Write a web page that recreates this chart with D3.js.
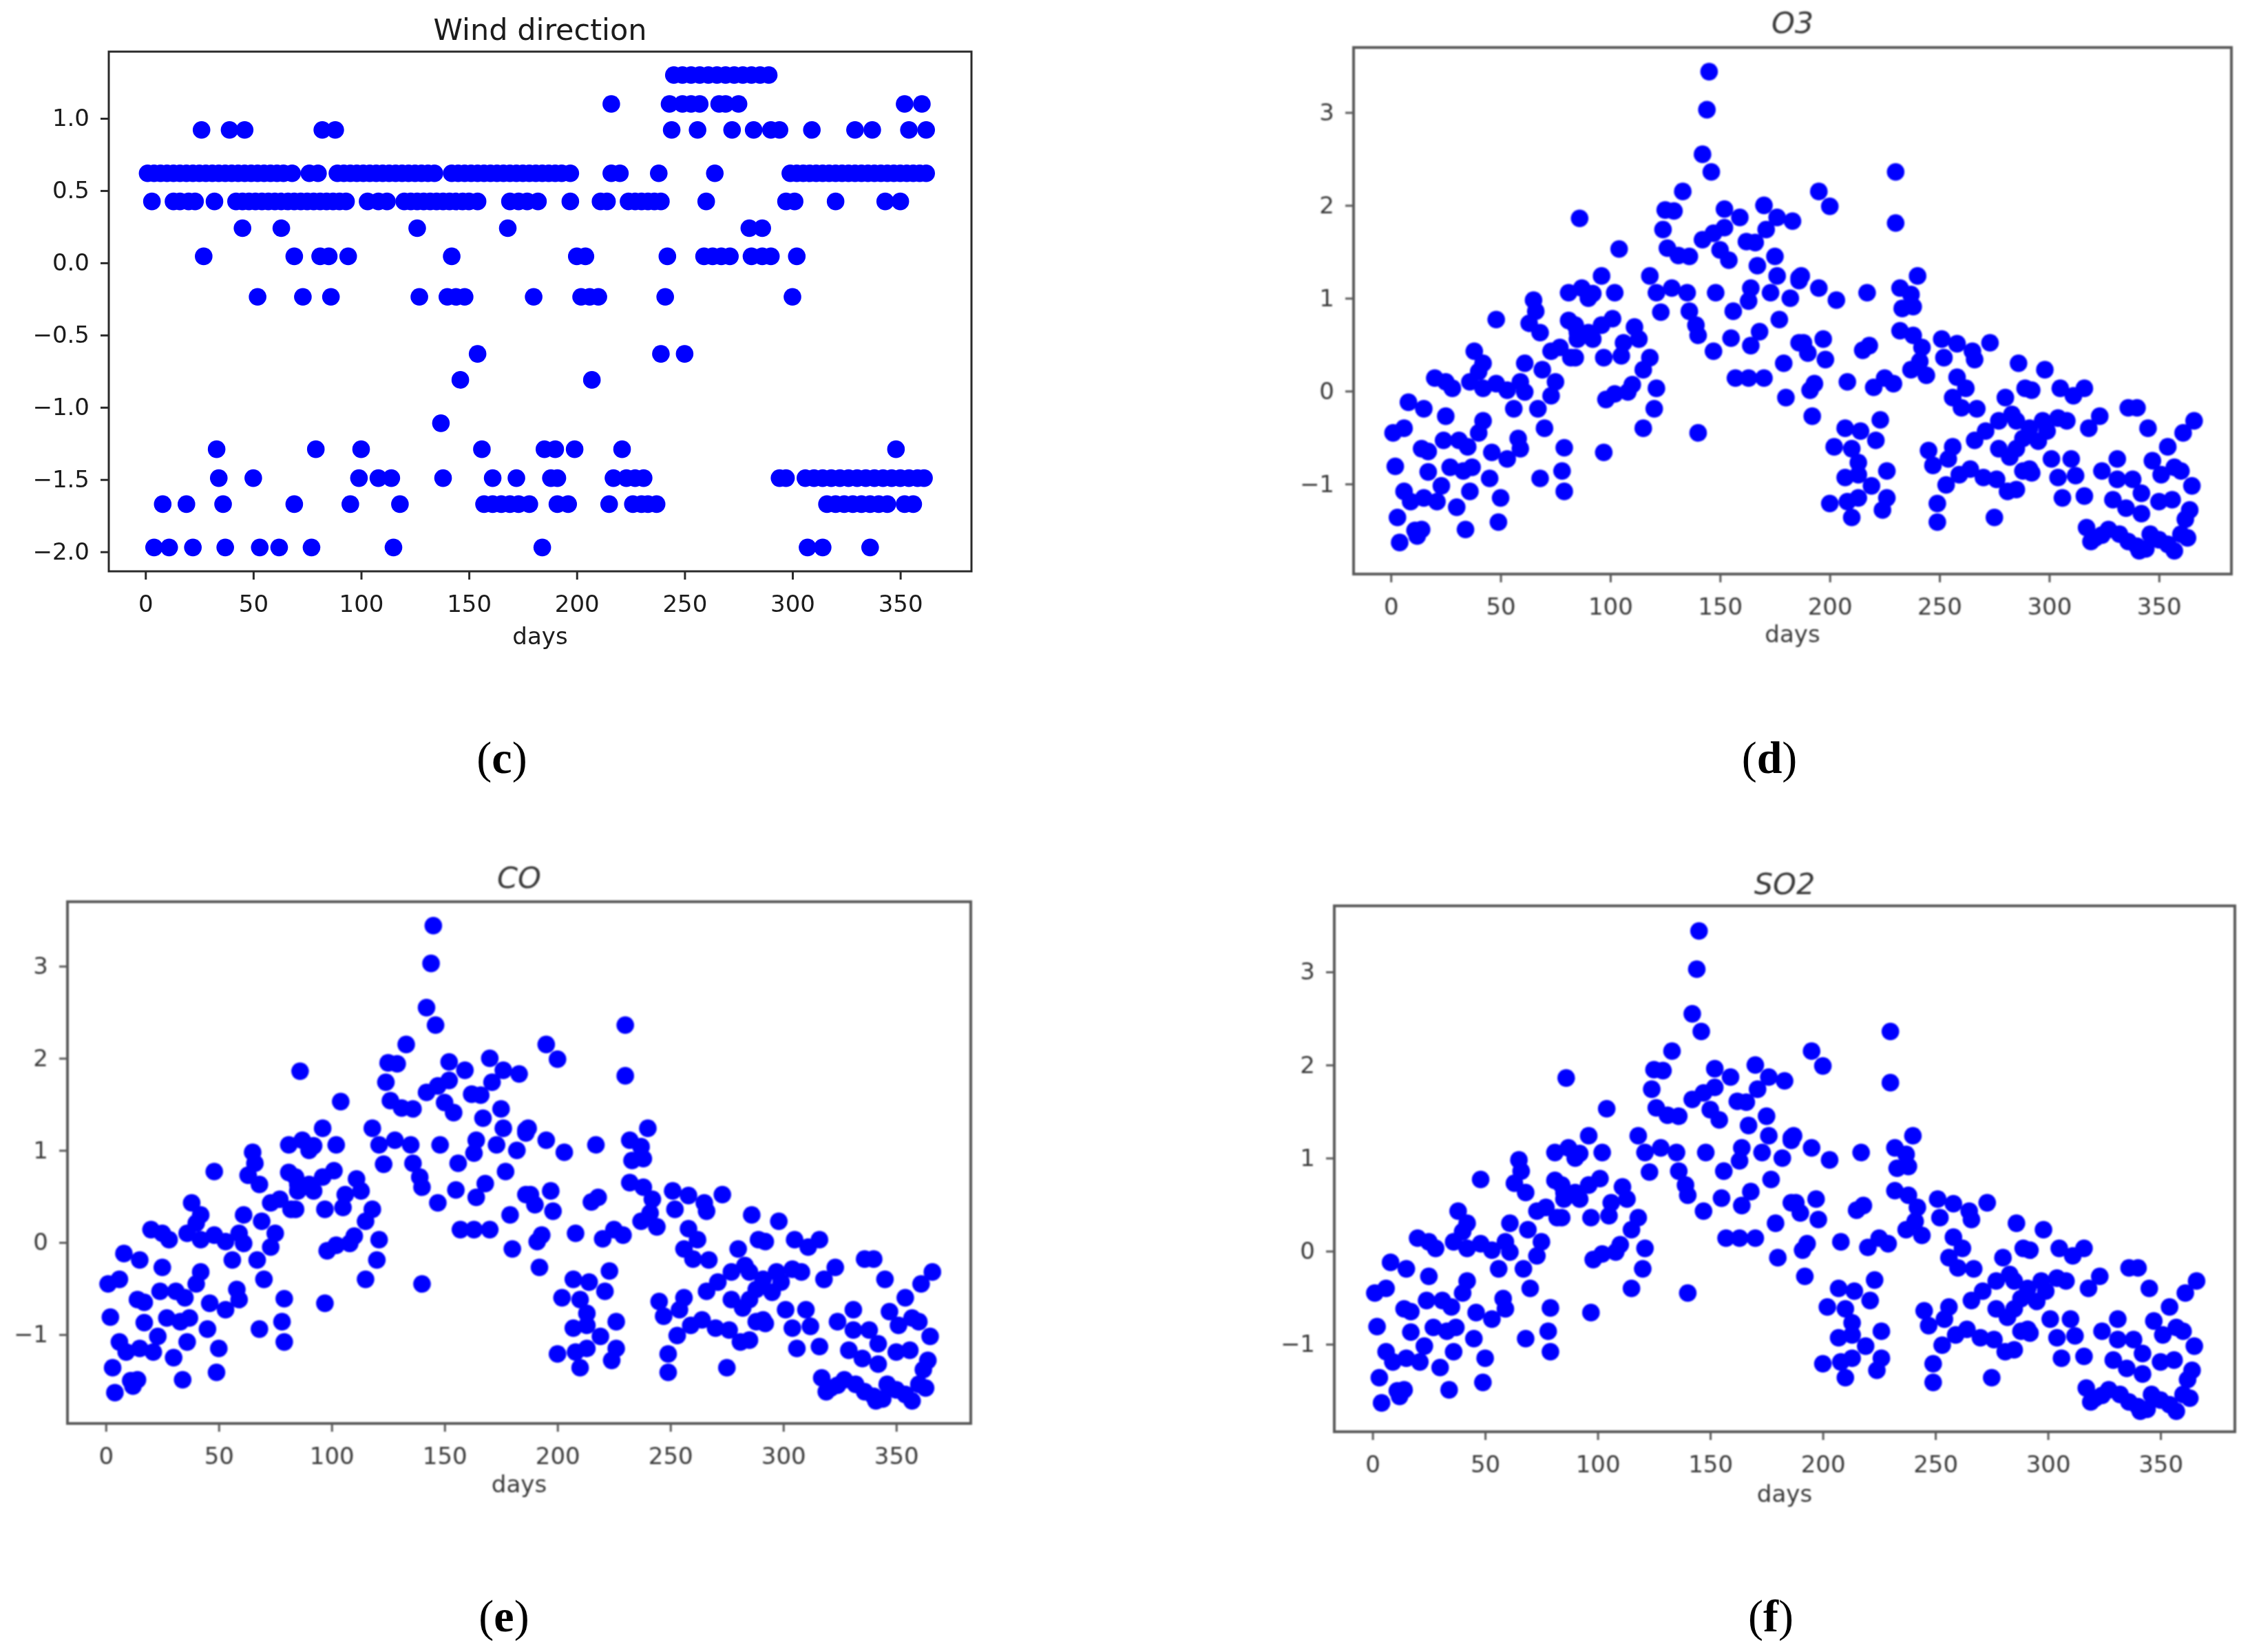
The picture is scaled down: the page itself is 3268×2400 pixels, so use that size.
<!DOCTYPE html>
<html>
<head>
<meta charset="utf-8">
<script src="https://cdn.jsdelivr.net/npm/d3@7"></script>
<style>
  body { margin: 0; background: #fff; }
  svg { display: block; }
</style>
</head>
<body>
<div id="chart"></div>
<script>
// wind direction takes a few discrete levels, days listed per level
var windLevels = [1.30, 1.10, 0.92, 0.62, 0.425, 0.24, 0.045, -0.235, -0.63, -0.81, -1.11, -1.29, -1.49, -1.67, -1.97];
var windDays = [
    [245, 249, 253, 257, 261, 265, 269, 273, 277, 281, 285, 289],
    [216, 243, 249, 253, 257, 266, 269, 275, 352, 360],
    [26, 39, 46, 82, 88, 244, 256, 272, 282, 290, 294, 309, 329, 337, 354, 362],
    [1, 4, 7, 10, 13, 16, 19, 22, 25, 28, 31, 34, 37, 40, 43, 46, 49, 52, 55, 58, 61, 64, 68, 76, 80, 89, 92, 95, 98,
     101, 104, 107, 110, 113, 116, 119, 122, 125, 128, 131, 134, 142, 145, 148, 151, 154, 157, 160, 163, 166, 169,
     172, 175, 178, 181, 184, 187, 190, 193, 197, 216, 220, 238, 264, 299, 302, 305, 308, 311, 314, 317, 320, 323,
     326, 329, 332, 335, 338, 341, 344, 347, 350, 353, 356, 359, 362],
    [3, 13, 16, 20, 23, 32, 42, 45, 48, 51, 54, 57, 60, 63, 66, 69, 72, 75, 78, 81, 84, 87, 90, 93, 103, 108, 112,
     120, 123, 126, 129, 132, 135, 138, 141, 144, 147, 150, 154, 169, 173, 177, 182, 197, 211, 214, 224, 227, 230,
     233, 236, 239, 260, 297, 301, 320, 343, 350],
    [45, 63, 126, 168, 280, 286],
    [27, 69, 81, 85, 94, 142, 200, 204, 242, 259, 263, 267, 271, 281, 286, 290, 302],
    [52, 73, 86, 127, 140, 144, 148, 180, 202, 206, 210, 241, 300],
    [154, 239, 250],
    [146, 207],
    [137],
    [33, 79, 100, 156, 185, 190, 199, 221, 348],
    [34, 50, 99, 108, 114, 138, 161, 172, 188, 191, 217, 223, 227, 231, 294, 297, 306, 310, 314, 318, 322, 326,
     330, 334, 338, 342, 346, 350, 354, 358, 361],
    [8, 19, 36, 69, 95, 118, 157, 161, 165, 169, 173, 178, 191, 196, 215, 226, 230, 233, 237, 316, 320, 324, 328,
     332, 336, 340, 344, 352, 356],
    [4, 11, 22, 37, 53, 62, 77, 115, 184, 307, 314, 336]
];

// O3, CO and SO2: the three panels show the same scatter, [day, value]
var pollPoints = [
    [1,-0.45],[6,-0.40],[8,-0.12],[15,-0.19],[2,-0.81],[3,-1.36],[4,-1.63],[6,-1.08],[9,-1.19],[11,-1.50],
    [12,-1.56],[14,-1.49],[15,-1.15],[14,-0.62],[17,-0.65],[17,-0.87],[20,0.14],[21,-1.19],[23,-1.02],[24,-0.53],
    [25,-0.27],[25,0.10],[27,-0.82],[28,0.03],[30,-1.25],[31,-0.53],[33,-0.86],[34,-1.49],[35,-0.60],[36,0.10],
    [36,-1.08],[37,-0.82],[38,0.43],[40,0.21],[40,-0.45],[42,0.30],[42,0.03],[42,-0.32],[45,-0.94],[46,-0.66],
    [48,0.77],[48,0.08],[49,-1.41],[50,-1.15],[53,0.01],[53,-0.73],[56,-0.19],[58,-0.51],[59,0.10],[59,-0.62],
    [61,0.30],[61,-0.01],[63,0.73],[65,0.98],[66,0.86],[67,-0.19],[68,-0.94],[68,0.63],[69,0.23],[70,-0.40],
    [73,0.43],[73,-0.05],[75,0.10],[77,0.47],[78,-0.86],[79,-0.61],[79,-1.08],[81,1.06],[81,0.76],[82,0.36],
    [85,0.63],[85,0.56],[86,1.86],[87,1.11],
    [145,3.44],[144,3.03],[142,2.55],[146,2.36],[133,2.15],[125,1.95],[129,1.94],[124,1.74],[104,1.53],[126,1.54],
    [131,1.46],[136,1.45],[142,1.63],[147,1.70],[152,1.76],[152,1.96],[159,1.87],[170,2.00],[176,1.87],[183,1.83],
    [171,1.74],[162,1.61],[166,1.60],[150,1.52],[154,1.41],[175,1.45],[167,1.35],[176,1.24],[186,1.22],[96,1.24],
    [118,1.24],[90,1.00],[92,1.05],[102,1.06],[121,1.06],[128,1.11],[135,1.06],[148,1.06],[164,1.11],[163,0.97],
    [173,1.06],[182,1.00],[186,1.19],[123,0.85],[136,0.86],[139,0.71],[140,0.60],[147,0.43],[156,0.86],[155,0.57],
    [164,0.49],[168,0.64],[177,0.77],[186,0.52],[179,0.30],[84,0.71],[90,0.63],[96,0.71],[101,0.78],[92,0.56],
    [84,0.36],[97,0.36],[111,0.69],[113,0.56],[106,0.52],[105,0.38],[118,0.36],[115,0.23],[108,-0.01],[102,-0.03],
    [98,-0.09],[110,0.07],[121,0.03],[120,-0.19],[115,-0.40],[97,-0.66],[140,-0.45],[157,0.14],[163,0.14],[170,0.14],
    [180,-0.07],
    [230,2.36],[230,1.81],[195,2.15],[200,1.99],[187,1.24],[195,1.11],[203,0.98],[217,1.06],[232,1.11],[240,1.24],
    [237,1.04],[233,0.89],[238,0.91],[232,0.65],[238,0.60],[242,0.47],[251,0.56],[241,0.32],[237,0.23],[244,0.17],
    [188,0.52],[197,0.56],[190,0.41],[198,0.34],[218,0.49],[215,0.44],[193,0.08],[191,0.01],[208,0.10],[220,0.04],
    [225,0.14],[229,0.08],[192,-0.27],[252,0.36],[258,0.51],[265,0.43],[273,0.52],[266,0.34],[286,0.30],[258,0.15],
    [262,0.03],[256,-0.07],[260,-0.18],[267,-0.19],[280,-0.07],[289,0.03],[283,-0.25],[277,-0.32],[271,-0.43],[266,-0.53],
    [223,-0.31],[207,-0.40],[214,-0.43],[221,-0.53],[202,-0.60],[210,-0.62],[213,-0.77],[207,-0.93],[213,-0.90],[226,-0.86],
    [219,-1.02],[200,-1.21],[208,-1.19],[213,-1.15],[210,-1.36],[226,-1.15],[224,-1.28],[245,-0.64],[247,-0.80],[256,-0.60],
    [254,-0.73],[253,-1.01],[259,-0.90],[264,-0.84],[270,-0.93],[276,-0.95],[249,-1.21],[249,-1.41],[275,-1.36],[281,-1.08],
    [277,-0.62],[282,-0.71],[288,-0.86],
    [298,0.23],[292,0.01],[305,0.03],[311,-0.05],[316,0.03],[323,-0.27],[318,-0.40],[336,-0.18],[340,-0.18],[345,-0.40],
    [366,-0.32],[361,-0.45],[354,-0.60],[285,-0.32],[291,-0.40],[297,-0.32],[304,-0.29],[308,-0.32],[288,-0.51],[295,-0.54],
    [285,-0.62],[299,-0.43],[285,-1.06],[291,-0.84],[292,-0.88],[301,-0.73],[310,-0.73],[304,-0.93],[312,-0.91],[306,-1.15],
    [316,-1.13],[331,-0.73],[324,-0.86],[331,-0.95],[338,-0.95],[342,-1.10],[347,-0.75],[351,-0.90],[357,-0.82],[360,-0.86],
    [365,-1.02],[329,-1.17],[335,-1.26],[342,-1.32],[350,-1.19],[356,-1.17],[364,-1.28],[317,-1.47],[319,-1.62],[321,-1.58],
    [324,-1.55],[327,-1.49],[332,-1.54],[336,-1.62],[340,-1.67],[341,-1.72],[344,-1.70],[346,-1.54],[350,-1.60],[354,-1.65],
    [357,-1.72],[360,-1.54],[362,-1.38],[363,-1.58]
];

var dayTicks = [0, 50, 100, 150, 200, 250, 300, 350];
var windTicks = [-2.0, -1.5, -1.0, -0.5, 0.0, 0.5, 1.0];
var pollTicks = [-1, 0, 1, 2, 3];

// flatten wind levels into points
var windPoints = [];
windLevels.forEach(function(level, i) {
    windDays[i].forEach(function(day) {
        windPoints.push([day, level]);
    });
});

var W = 3268, H = 2400;

var svg = d3.select("#chart").append("svg")
    .attr("width", W)
    .attr("height", H)
    .attr("viewBox", "0 0 " + W + " " + H);

svg.append("rect").attr("width", W).attr("height", H).attr("fill", "#fff");

var defs = svg.append("defs");
defs.append("filter").attr("id", "softA")
    .append("feGaussianBlur").attr("stdDeviation", 0.7);
defs.append("filter").attr("id", "softB")
    .append("feGaussianBlur").attr("stdDeviation", 1.3);

// panel boxes are [left, right, top, bottom] in page pixels
var panels = [
    {title: "Wind direction", italic: false, box: [158, 1411, 75, 830], yDomain: [-2.135, 1.462],
     yTicks: windTicks, fmt: d3.format(".1f"), points: windPoints, titleY: 58, daysY: 936,
     tag: "c", tagX: 729, tagY: 1123, ink: "#1a1a1a", frame: "#2a2a2a", filter: "softA"},
    {title: "O3", italic: true, box: [1966, 3241, 69, 834], yDomain: [-1.97, 3.70],
     yTicks: pollTicks, fmt: d3.format("d"), points: pollPoints, titleY: 48, daysY: 933,
     tag: "d", tagX: 2570, tagY: 1123, ink: "#3a3a3a", frame: "#5a5a5a", filter: "softB"},
    {title: "CO", italic: true, box: [98, 1410, 1310, 2068], yDomain: [-1.965, 3.70],
     yTicks: pollTicks, fmt: d3.format("d"), points: pollPoints, titleY: 1290, daysY: 2168,
     tag: "e", tagX: 732, tagY: 2370, ink: "#3a3a3a", frame: "#5a5a5a", filter: "softB"},
    {title: "SO2", italic: true, box: [1938, 3246, 1316, 2080], yDomain: [-1.94, 3.71],
     yTicks: pollTicks, fmt: d3.format("d"), points: pollPoints, titleY: 1299, daysY: 2182,
     tag: "f", tagX: 2572, tagY: 2370, ink: "#3a3a3a", frame: "#5a5a5a", filter: "softB"}
];

function minus(s) {
    return s.replace("-", "\u2212");
}

panels.forEach(function(p) {
    var b = p.box;
    var x = d3.scaleLinear().domain([-17, 383]).range([b[0], b[1]]);
    var y = d3.scaleLinear().domain(p.yDomain).range([b[3], b[2]]);

    var g = svg.append("g").attr("filter", "url(#" + p.filter + ")");

    // points
    g.append("g").selectAll("circle")
        .data(p.points)
        .enter().append("circle")
        .attr("cx", function(d) { return x(d[0]); })
        .attr("cy", function(d) { return y(d[1]); })
        .attr("r", 12.8)
        .attr("fill", "#0000ff");

    // frame
    g.append("rect")
        .attr("x", b[0]).attr("y", b[2])
        .attr("width", b[1] - b[0]).attr("height", b[3] - b[2])
        .attr("fill", "none")
        .attr("stroke", p.frame)
        .attr("stroke-width", p.italic ? 4 : 3);

    // x axis
    var xAxis = g.append("g")
        .attr("transform", "translate(0," + b[3] + ")")
        .call(d3.axisBottom(x).tickValues(dayTicks).tickSize(12).tickPadding(23)
            .tickFormat(function(d) { return minus(String(d)); }));

    // y axis
    var yAxis = g.append("g")
        .attr("transform", "translate(" + b[0] + ",0)")
        .call(d3.axisLeft(y).tickValues(p.yTicks).tickSize(12).tickPadding(16)
            .tickFormat(function(d) { return minus(p.fmt(d)); }));

    [xAxis, yAxis].forEach(function(ax) {
        ax.select(".domain").remove();
        ax.selectAll(".tick line").attr("stroke", p.frame).attr("stroke-width", 3);
        ax.selectAll(".tick text")
            .attr("fill", p.ink)
            .style("font-family", "DejaVu Sans")
            .style("font-size", "34px");
    });

    // title
    g.append("text")
        .attr("x", (b[0] + b[1]) / 2)
        .attr("y", p.titleY)
        .attr("text-anchor", "middle")
        .attr("fill", p.ink)
        .style("font-family", "DejaVu Sans")
        .style("font-style", p.italic ? "italic" : "normal")
        .style("font-size", "43px")
        .text(p.title);

    // x label
    g.append("text")
        .attr("x", (b[0] + b[1]) / 2)
        .attr("y", p.daysY)
        .attr("text-anchor", "middle")
        .attr("fill", p.ink)
        .style("font-family", "DejaVu Sans")
        .style("font-size", "34px")
        .text("days");

    // sub-figure tag like (c)
    var tag = svg.append("text")
        .attr("x", p.tagX)
        .attr("y", p.tagY)
        .attr("text-anchor", "middle")
        .attr("fill", "#000")
        .style("font-family", "Liberation Serif, Times New Roman, serif")
        .style("font-size", "66px");
    tag.append("tspan").text("(");
    tag.append("tspan").style("font-weight", "bold").text(p.tag);
    tag.append("tspan").text(")");
});
</script>
</body>
</html>
